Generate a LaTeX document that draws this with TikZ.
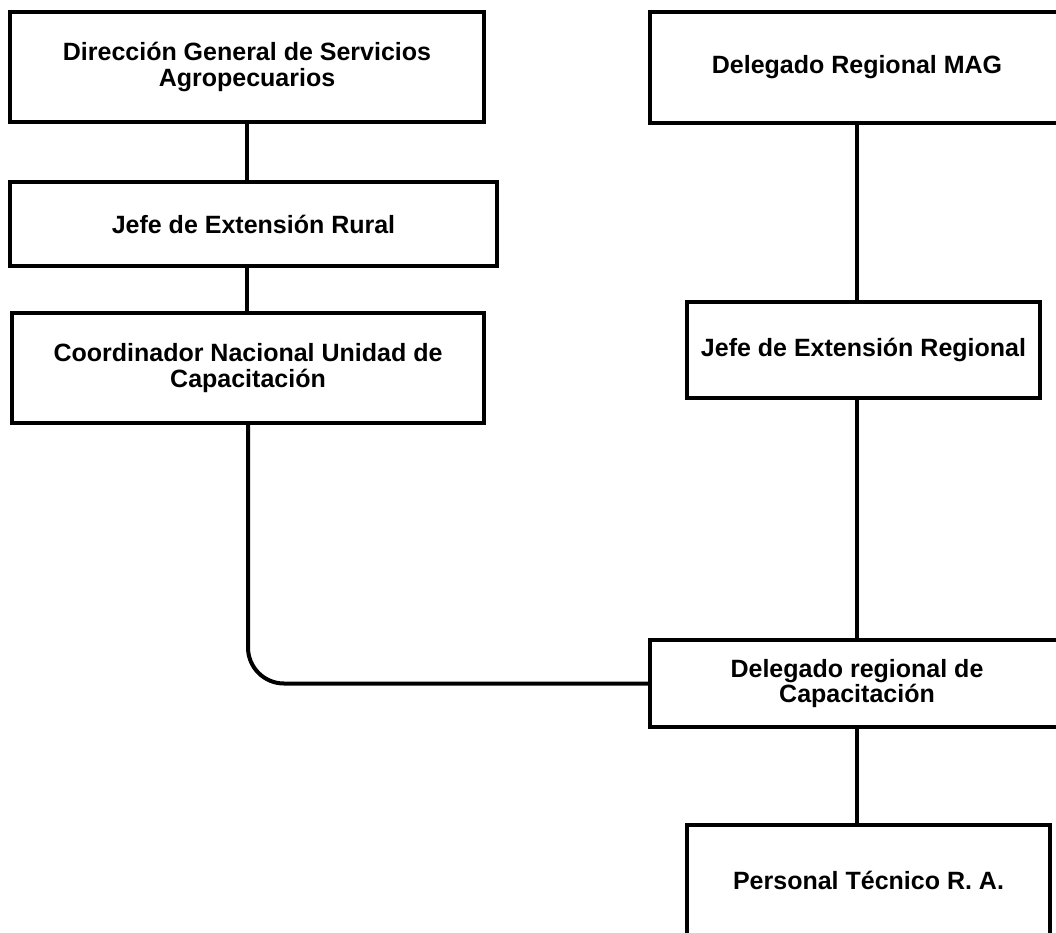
\documentclass[tikz,border=0pt]{standalone}
\usepackage{fontspec}
\setmainfont{Liberation Sans}
\usepackage{tikz}
\usetikzlibrary{calc}
\usetikzlibrary{positioning}

\tikzset{
  orgbox/.style={draw=black, line width=4pt, rectangle, align=center, inner sep=0pt,
                 font=\fontsize{25}{25.5}\selectfont\bfseries},
  orgline/.style={draw=black, line width=4pt}
}

\begin{document}
\begin{tikzpicture}[x=1pt, y=-1pt]
            \useasboundingbox (0,0) rectangle (1056,932);
            \clip (0,0) rectangle (1056,932);
            % left column
            \node[orgbox, minimum width=474pt, minimum height=110pt] (direccion)   at (247.0,  67.0) {Dirección General de Servicios\\Agropecuarios};
            \node[orgbox, minimum width=487pt, minimum height=84pt]  (jeferural)   at (253.5, 224.0) {Jefe de Extensión Rural};
            \node[orgbox, minimum width=472pt, minimum height=110pt] (coordinador) at (248.0, 368.0) {Coordinador Nacional Unidad de\\Capacitación};
            % right column
            \node[orgbox, minimum width=414pt, minimum height=111pt] (delegadomag) at (857.0,  67.5) {Delegado Regional MAG};
            \node[orgbox, minimum width=353pt, minimum height=96pt]  (jeferegion)  at (863.5, 350.0) {Jefe de Extensión Regional};
            \node[orgbox, minimum width=414pt, minimum height=87pt]  (delegadocap) at (857.0, 683.5) {Delegado regional de\\Capacitación};
            \node[orgbox, minimum width=363pt, minimum height=110pt] (personal)    at (868.5, 880.0) {Personal Técnico R. A.};
            % connectors
            \draw[orgline] (direccion.south) -- (direccion.south |- jeferural.north);
            \draw[orgline] (jeferural.south -| direccion.south) -- (coordinador.north -| direccion.south);
            \draw[orgline, rounded corners=36pt] (coordinador.south) |- (delegadocap.west);
            \draw[orgline] (delegadomag.south) -- (delegadomag.south |- jeferegion.north);
            \draw[orgline] (delegadocap.north) -- (delegadocap.north |- jeferegion.south);
            \draw[orgline] (delegadocap.south) -- (delegadocap.south |- personal.north);
        \end{tikzpicture}
\end{document}
